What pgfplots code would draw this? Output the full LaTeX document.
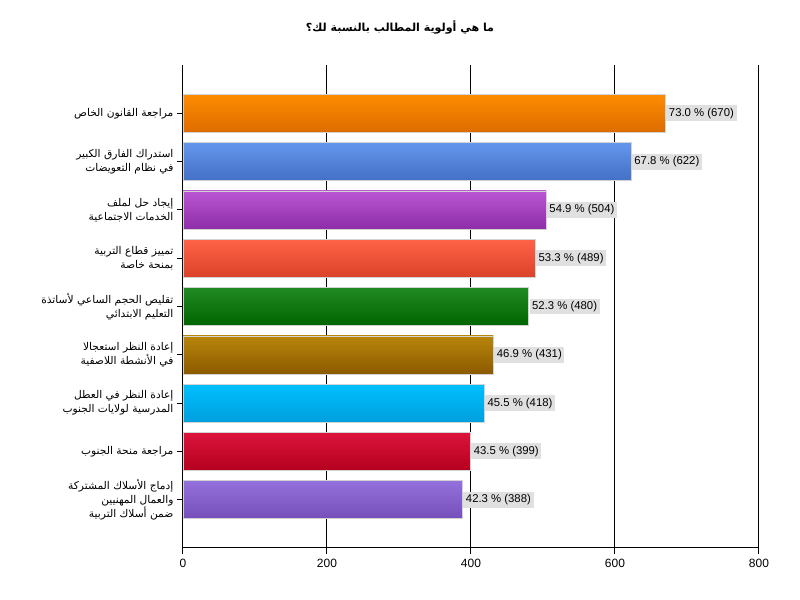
\documentclass[border=0pt]{standalone}
\usepackage{pgfplots}
\pgfplotsset{compat=1.18}
\usepackage{fontspec}
\setmainfont{Liberation Sans}
\newfontfamily\arabicfont[Script=Arabic]{DejaVu Sans}
\TeXXeTstate=1
\definecolor{c1t}{HTML}{FF8C00}\definecolor{c1b}{HTML}{DC6C00}
\definecolor{c2t}{HTML}{6495ED}\definecolor{c2b}{HTML}{4470C6}
\definecolor{c3t}{HTML}{BA55D3}\definecolor{c3b}{HTML}{8E2EA8}
\definecolor{c4t}{HTML}{FF6347}\definecolor{c4b}{HTML}{DA4229}
\definecolor{c5t}{HTML}{228B22}\definecolor{c5b}{HTML}{006400}
\definecolor{c6t}{HTML}{B8860B}\definecolor{c6b}{HTML}{8C5A00}
\definecolor{c7t}{HTML}{00BFFF}\definecolor{c7b}{HTML}{009FDC}
\definecolor{c8t}{HTML}{DC143C}\definecolor{c8b}{HTML}{B4001E}
\definecolor{c9t}{HTML}{9370DB}\definecolor{c9b}{HTML}{7650BA}
\definecolor{lblbg}{HTML}{E0E0E0}
\begin{document}
\begin{tikzpicture}
\path[use as bounding box] (-137.25pt,-39pt) rectangle (462.75pt,411pt);
\begin{axis}[
  at={(0pt,0pt)}, anchor=south west,
  scale only axis, width=432pt, height=362.25pt,
  xmin=0, xmax=800, ymin=-1, ymax=9,
  xbar, bar width=28.5pt, bar shift=0pt,
  axis x line*=bottom, axis y line*=left,
  xtick={0,200,400,600,800},
  xmajorgrids, major grid style={black, line width=0.75pt},
  ytick={0,1,2,3,4,5,6,7,8},
  yticklabels={
    {\beginR إدماج الأسلاك المشتركة\endR\\\beginR والعمال المهنيين\endR\\\beginR ضمن أسلاك التربية\endR},
    {\beginR مراجعة منحة الجنوب\endR},
    {\beginR إعادة النظر في العطل\endR\\\beginR المدرسية لولايات الجنوب\endR},
    {\beginR إعادة النظر استعجالا\endR\\\beginR في الأنشطة اللاصفية\endR},
    {\beginR تقليص الحجم الساعي لأساتذة\endR\\\beginR التعليم الابتدائي\endR},
    {\beginR تمييز قطاع التربية\endR\\\beginR بمنحة خاصة\endR},
    {\beginR إيجاد حل لملف\endR\\\beginR الخدمات الاجتماعية\endR},
    {\beginR استدراك الفارق الكبير\endR\\\beginR في نظام التعويضات\endR},
    {\beginR مراجعة القانون الخاص\endR}},
  tick align=outside, major tick length=4.5pt,
  axis line style={black, line width=0.75pt, -},
  tick style={black, line width=0.75pt},
  yticklabel style={align=right, font=\arabicfont\fontsize{8}{10.5}\selectfont, inner sep=2.5pt},
  xticklabel style={font=\fontsize{9}{11}\selectfont},
  /pgf/number format/assume math mode=true,
  every node near coord/.style={anchor=west, fill=lblbg, text=black, inner sep=2pt, xshift=0.5pt, font=\fontsize{8.5}{10}\selectfont},
]
\addplot[xbar, draw=gray!35, top color=c1t, bottom color=c1b, nodes near coords={73.0 \% (670)}] coordinates {(670,8)};
\addplot[xbar, draw=gray!35, top color=c2t, bottom color=c2b, nodes near coords={67.8 \% (622)}] coordinates {(622,7)};
\addplot[xbar, draw=gray!35, top color=c3t, bottom color=c3b, nodes near coords={54.9 \% (504)}] coordinates {(504,6)};
\addplot[xbar, draw=gray!35, top color=c4t, bottom color=c4b, nodes near coords={53.3 \% (489)}] coordinates {(489,5)};
\addplot[xbar, draw=gray!35, top color=c5t, bottom color=c5b, nodes near coords={52.3 \% (480)}] coordinates {(480,4)};
\addplot[xbar, draw=gray!35, top color=c6t, bottom color=c6b, nodes near coords={46.9 \% (431)}] coordinates {(431,3)};
\addplot[xbar, draw=gray!35, top color=c7t, bottom color=c7b, nodes near coords={45.5 \% (418)}] coordinates {(418,2)};
\addplot[xbar, draw=gray!35, top color=c8t, bottom color=c8b, nodes near coords={43.5 \% (399)}] coordinates {(399,1)};
\addplot[xbar, draw=gray!35, top color=c9t, bottom color=c9b, nodes near coords={42.3 \% (388)}] coordinates {(388,0)};
\end{axis}
\node[font=\arabicfont\bfseries\fontsize{8.3}{11}\selectfont] at (162.75pt,390.75pt) {\beginR ما هي أولوية المطالب بالنسبة لك؟\endR};
\end{tikzpicture}
\end{document}
